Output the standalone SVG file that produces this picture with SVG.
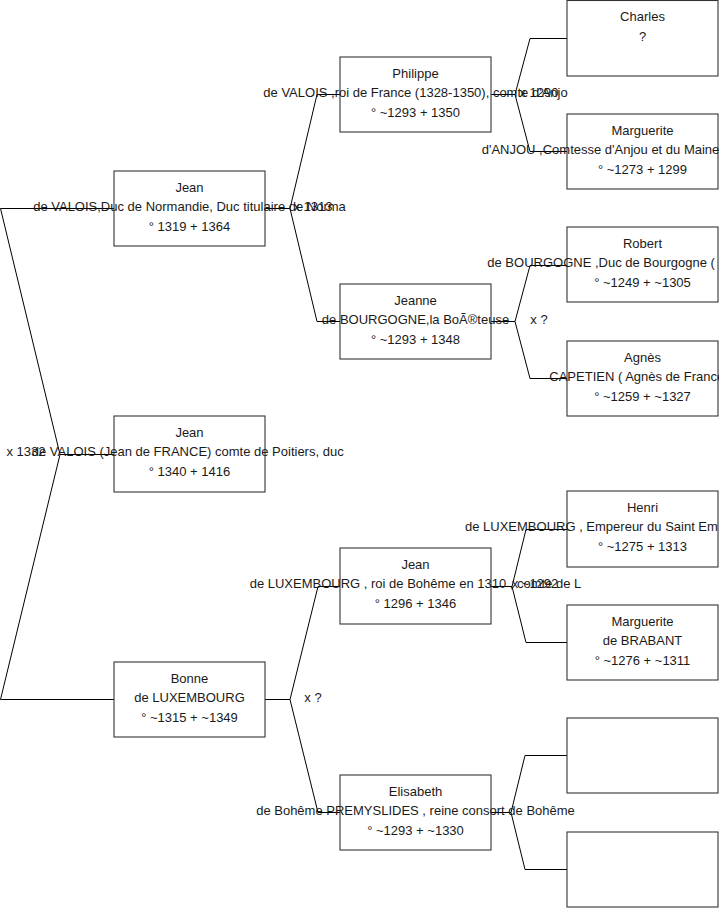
<svg xmlns="http://www.w3.org/2000/svg" width="719" height="908" viewBox="0 0 719 908">
<style>
.box{fill:#fff;stroke:#333;stroke-width:1.1}
text{font-family:"Liberation Sans",Arial,sans-serif;font-size:13px;fill:#1a1a1a}
.c{text-anchor:middle}
.ln{fill:none;stroke:#000;stroke-width:1}
</style>
<rect width="719" height="908" fill="#fff"/>
<g id="connectors">
<polyline class="ln" points="114,208.5 0.5,208.5 60,454.5 0.5,699.5 114,699.5"/>
<line class="ln" x1="60" y1="454.5" x2="114" y2="454.5"/>
<polyline class="ln" points="265,208.5 290,208.5"/>
<polyline class="ln" points="340,94.5 317,94.5 290,208.5 317,321.5 340,321.5"/>
<polyline class="ln" points="265,699.5 290,699.5"/>
<polyline class="ln" points="340,586.5 318,586.5 290,699.5 318,812.5 340,812.5"/>
<polyline class="ln" points="491,94.5 515,94.5"/>
<polyline class="ln" points="567,38.5 530,38.5 515,94.5 530,151.5 567,151.5"/>
<polyline class="ln" points="491,321.5 515,321.5"/>
<polyline class="ln" points="567,265.5 530,265.5 515,321.5 530,378.5 567,378.5"/>
<polyline class="ln" points="491,586.5 512,586.5"/>
<polyline class="ln" points="567,529.5 526,529.5 512,586.5 526,642.5 567,642.5"/>
<polyline class="ln" points="491,812.5 511,812.5"/>
<polyline class="ln" points="567,755.5 525,755.5 511,812.5 525,869.5 567,869.5"/>
</g>
<g id="marriages">
<text x="26" y="456" class="c">x 1332</text>
<text x="313" y="211" class="c">x 1313</text>
<text x="313" y="702" class="c">x ?</text>
<text x="539" y="97" class="c">x 1290</text>
<text x="539" y="324" class="c">x ?</text>
<text x="535" y="588" class="c">x ~1292</text>
</g>
<g id="jean_normandie">
<rect class="box" x="114" y="171" width="151" height="75"/>
<text x="189.5" y="192" class="c">Jean</text>
<text x="189.5" y="211" class="c">de VALOIS,Duc de Normandie, Duc titulaire de Norma</text>
<text x="189.5" y="231" class="c">° 1319 + 1364</text>
</g>
<g id="jean_poitiers">
<rect class="box" x="114" y="416" width="151" height="76"/>
<text x="189.5" y="437" class="c">Jean</text>
<text x="187.7" y="456" class="c">de VALOIS (Jean de FRANCE) comte de Poitiers, duc</text>
<text x="189.5" y="476" class="c">° 1340 + 1416</text>
</g>
<g id="bonne">
<rect class="box" x="114" y="662" width="151" height="75"/>
<text x="189.5" y="683" class="c">Bonne</text>
<text x="189.5" y="702" class="c">de LUXEMBOURG</text>
<text x="189.5" y="722" class="c">° ~1315 + ~1349</text>
</g>
<g id="philippe">
<rect class="box" x="340" y="57" width="151" height="75"/>
<text x="415.5" y="78" class="c">Philippe</text>
<text x="415.5" y="97" class="c">de VALOIS ,roi de France (1328-1350), comte d'Anjo</text>
<text x="415.5" y="117" class="c">° ~1293 + 1350</text>
</g>
<g id="jeanne">
<rect class="box" x="340" y="284" width="151" height="75"/>
<text x="415.5" y="305" class="c">Jeanne</text>
<text x="415.5" y="324" class="c">de BOURGOGNE,la BoÃ®teuse</text>
<text x="415.5" y="344" class="c">° ~1293 + 1348</text>
</g>
<g id="jean_luxembourg">
<rect class="box" x="340" y="548" width="151" height="76"/>
<text x="415.5" y="569" class="c">Jean</text>
<text x="415.5" y="588" class="c">de LUXEMBOURG , roi de Bohême en 1310 , comte de L</text>
<text x="415.5" y="608" class="c">° 1296 + 1346</text>
</g>
<g id="elisabeth">
<rect class="box" x="340" y="775" width="151" height="75"/>
<text x="415.5" y="796" class="c">Elisabeth</text>
<text x="415.5" y="815" class="c">de Bohême PREMYSLIDES , reine consort de Bohême</text>
<text x="415.5" y="835" class="c">° ~1293 + ~1330</text>
</g>
<g id="charles">
<rect class="box" x="567" y="0.5" width="151" height="75.5"/>
<text x="642.5" y="21" class="c">Charles</text>
<text x="642.5" y="41" class="c">?</text>
</g>
<g id="marguerite_anjou">
<rect class="box" x="567" y="114" width="151" height="75"/>
<text x="642.5" y="135" class="c">Marguerite</text>
<text x="481.7" y="154">d'ANJOU ,Comtesse d'Anjou et du Maine</text>
<text x="642.5" y="174" class="c">° ~1273 + 1299</text>
</g>
<g id="robert">
<rect class="box" x="567" y="227" width="151" height="75"/>
<text x="642.5" y="248" class="c">Robert</text>
<text x="487.3" y="267">de BOURGOGNE ,Duc de Bourgogne (</text>
<text x="642.5" y="287" class="c">° ~1249 + ~1305</text>
</g>
<g id="agnes">
<rect class="box" x="567" y="341" width="151" height="75"/>
<text x="642.5" y="362" class="c">Agnès</text>
<text x="549.3" y="381">CAPETIEN ( Agnès de France</text>
<text x="642.5" y="401" class="c">° ~1259 + ~1327</text>
</g>
<g id="henri">
<rect class="box" x="567" y="491" width="151" height="76"/>
<text x="642.5" y="512" class="c">Henri</text>
<text x="465" y="531">de LUXEMBOURG , Empereur du Saint Em</text>
<text x="642.5" y="551" class="c">° ~1275 + 1313</text>
</g>
<g id="marguerite_brabant">
<rect class="box" x="567" y="605" width="151" height="75"/>
<text x="642.5" y="626" class="c">Marguerite</text>
<text x="642.5" y="645" class="c">de BRABANT</text>
<text x="642.5" y="665" class="c">° ~1276 + ~1311</text>
</g>
<g id="empty_1">
<rect class="box" x="567" y="718" width="151" height="75"/>
</g>
<g id="empty_2">
<rect class="box" x="567" y="832" width="151" height="75"/>
</g>
</svg>
